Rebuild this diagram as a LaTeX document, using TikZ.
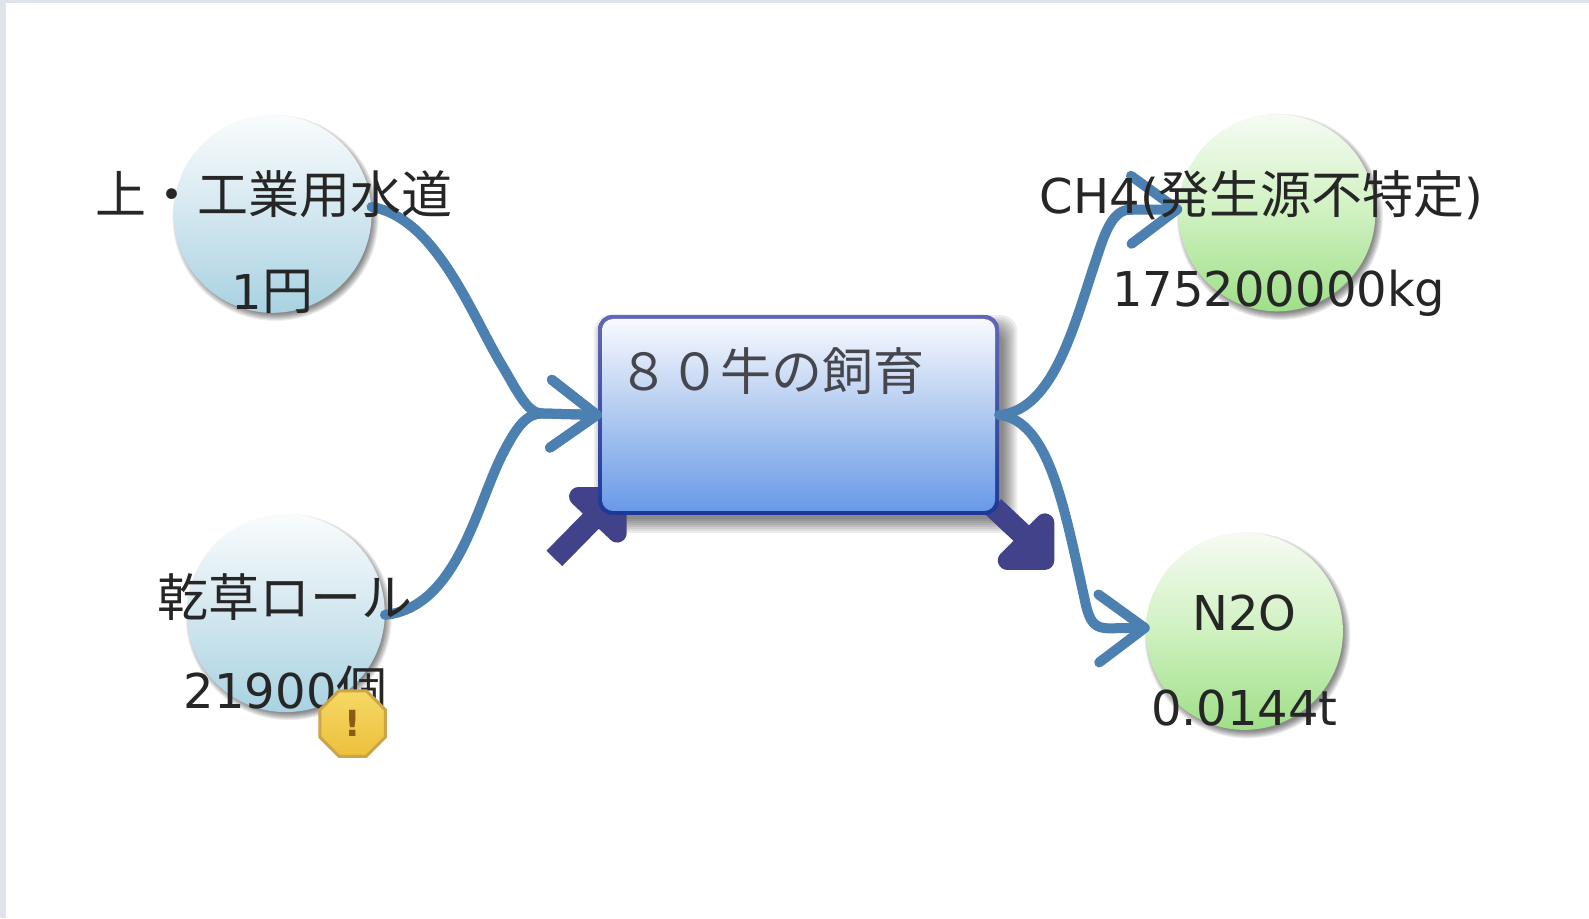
\documentclass[tikz,border=0pt]{standalone}
\usepackage{fontspec}
\setmainfont{Noto Sans CJK JP}
\newfontfamily\lat{DejaVu Sans}
\usetikzlibrary{arrows.meta,shapes.geometric}
\definecolor{flow}{HTML}{4C80B0}
\definecolor{purp}{HTML}{42428A}
\definecolor{txt}{HTML}{262626}
\definecolor{edge}{HTML}{DFE3EA}
\definecolor{bluetop}{HTML}{F9FCFD}
\definecolor{bluemid}{HTML}{D3E7EF}
\definecolor{bluebot}{HTML}{A8D2E2}
\definecolor{greentop}{HTML}{F6FBF3}
\definecolor{greenmid}{HTML}{CFF1C0}
\definecolor{greenbot}{HTML}{9FDF88}
\definecolor{boxtop}{HTML}{F8FAFE}
\definecolor{boxmid}{HTML}{B0C9F0}
\definecolor{boxbot}{HTML}{689AE8}
\definecolor{rimtop}{HTML}{6268B8}
\definecolor{rimbot}{HTML}{1E3898}
\definecolor{badgetop}{HTML}{F6D864}
\definecolor{badgebot}{HTML}{ECC03C}
\definecolor{badgerim}{HTML}{CDA546}
\definecolor{badgetxt}{HTML}{8C5A14}
\definecolor{boxtxt}{HTML}{46464E}
\tikzset{
 bluecirc/.style={circle,minimum size=198pt,inner sep=0pt,top color=bluetop,bottom color=bluebot,middle color=bluemid},
 greencirc/.style={circle,minimum size=197pt,inner sep=0pt,top color=greentop,bottom color=greenbot,middle color=greenmid},
 lab/.style={inner sep=0pt,text=txt,font=\fontsize{51}{54}\selectfont},
 num/.style={inner sep=0pt,text=txt,font=\lat\fontsize{48}{54}\selectfont},
 flowline/.style={draw=flow,line width=10pt,line cap=round,line join=round,shorten >=-4pt,-{Straight Barb[length=46pt,width=68pt,line width=10pt,round]}},
 thick arrow/.style={draw=purp,line width=19pt,line join=round},
 halo/.style={fill=black,opacity=0.07,draw=none},
}
\begin{document}
\begin{tikzpicture}[x=1.0134pt,y=-1.0134pt]
\useasboundingbox (0,0) rectangle (1568,906);
\fill[white] (0,0) rectangle (1568,906);
\fill[edge] (0,0) rectangle (1568,3);
\fill[edge] (0,0) rectangle (6,906);
% soft shadows
\foreach \cx/\cy in {272/215,285/609,1263/214,1231/627}{
 \foreach \r in {103,102,101,100,99,98,97,96}{
  \fill[halo] (\cx,\cy) circle[radius=\r pt];
 }
}
\foreach \g in {14,12,10,8,6,4,2,0}{
 \fill[halo,rounded corners=16pt] (600-\g,325-\g) rectangle (990+\g,512+\g);
}
% dark small arrows under the box
\coordinate (inA) at (547,551);
\coordinate (outB) at (1028,545);
\node[circle,inner sep=0pt,minimum size=1pt] (cornerA) at (600,497) {};
\node[circle,inner sep=0pt,minimum size=1pt] (cornerB) at (980,500) {};
\draw[purp,line width=22pt] (inA) -- (cornerA);
\draw[purp,line width=22pt] (cornerB) -- (outB);
\draw[thick arrow,line cap=round,fill=purp] (571,490) -- (609,490) -- (609,526) -- cycle;
\draw[thick arrow,line cap=round,fill=purp] (1031,516) -- (1031,553) -- (994,553) -- cycle;
% box
\node[rounded corners=14pt,minimum width=401pt,minimum height=200pt,inner sep=0pt,
 top color=rimtop,bottom color=rimbot] (box) at (788,409.5) {};
\node[rounded corners=11pt,minimum width=393pt,minimum height=192pt,inner sep=0pt,
 top color=boxtop,bottom color=boxbot,middle color=boxmid] (boxin) at (788,409.5) {};
% circles
\node[bluecirc] (c1) at (269,211) {};
\node[bluecirc] (c2) at (282,605) {};
\node[greencirc] (c3) at (1260,210) {};
\node[greencirc] (c4) at (1228,623) {};
% connectors
\draw[flowline] (c1.4) .. controls (430,215) and (465,310) .. (495,360) .. controls (510,385) and (520,408) .. (535,408) -- (box.west);
\draw[flowline] (c2.-1) .. controls (450,600) and (470,500) .. (495,450) .. controls (510,420) and (520,408) .. (535,408) -- (box.west);
\draw[flowline] (box.east) .. controls (1040,405) and (1060,320) .. (1082,255) .. controls (1090,230) and (1098,207) .. (1115,207) -- (c3.178);
\draw[flowline] (box.east) .. controls (1035,415) and (1050,500) .. (1070,590) .. controls (1075,615) and (1080,620) .. (1095,620) -- (c4.178);
% labels
\node[lab] (t1) at (270,192) {上・工業用水道};
\node[lab] (v1) at (269,288) {{\lat\fontsize{48}{54}\selectfont 1}円};
\node[lab] (t2) at (281,589) {乾草ロール};
\node[lab] (v2) at (282,680) {{\lat\fontsize{48}{54}\selectfont 21900}個};
\node[lab] (t3) at (1245,193) {{\lat\fontsize{48}{54}\selectfont CH4(}発生源不特定{\lat\fontsize{48}{54}\selectfont )}};
\node[num] (v3) at (1262,289) {175200000kg};
\node[num] (t4) at (1228,605) {N2O};
\node[num] (v4) at (1228,699) {0.0144t};
\node[inner sep=0pt,text=boxtxt,font=\fontsize{51}{54}\selectfont] (bt) at (761,366) {８０牛の飼育};
% warning badge
\node[regular polygon,regular polygon sides=8,minimum size=71pt,inner sep=0pt,
 draw=badgerim,line width=3pt,top color=badgetop,bottom color=badgebot,
 text=badgetxt,font=\lat\bfseries\fontsize{36}{36}\selectfont] (warn) at (348,714) {!};
\end{tikzpicture}
\end{document}
